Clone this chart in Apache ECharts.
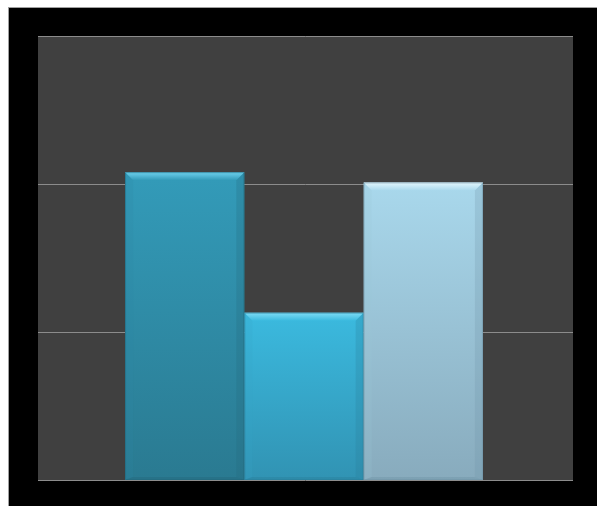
<!DOCTYPE html>
<html><head><meta charset="utf-8">
<script src="https://cdn.jsdelivr.net/npm/echarts@6/dist/echarts.min.js"></script>
<style>
html,body{margin:0;padding:0;background:#fff;width:597px;height:506px;overflow:hidden;}
#bg{position:absolute;left:8px;top:7px;right:0;bottom:0;background:#000;border-top:1px solid #a0a0a0;border-left:1px solid #a0a0a0;}
#chart{position:absolute;left:0;top:0;width:597px;height:506px;}
</style></head>
<body>
<div id="bg"></div>
<div id="chart"></div>
<script>
var categories = [''];
var seriesValues = [2.08, 1.13, 2.01];
var yTicks = [0, 1, 2, 3];
var palette = [
  {top:'#339bb9', bottom:'#2a7a91', bevel:'#6fd2ee', side:'#2d88a3', edge:'#22677b'},
  {top:'#3bbadf', bottom:'#3193b3', bevel:'#7edcf5', side:'#35a6c9', edge:'#277d99'},
  {top:'#a9d8ec', bottom:'#88abbd', bevel:'#e4f7fd', side:'#9cc6d8', edge:'#6f94a6'}
];
var chart = echarts.init(document.getElementById('chart'));
var n = seriesValues.length;
var groupFrac = 0.669;
function makeRender(idx){
  var c = palette[idx];
  return function(params, api){
    var v = api.value(1);
    var base = api.coord([api.value(0), 0]);
    var topP = api.coord([api.value(0), v]);
    var catW = api.size([1, 0])[0];
    var bw = catW * groupFrac / n;
    var x0 = base[0] - 1.5 - n * bw / 2 + idx * bw;
    var x1 = x0 + bw;
    var t = topP[1], b = base[1];
    var e = 8;
    return {type:'group', children:[
      {type:'rect', shape:{x:x0, y:t, width:bw, height:b - t},
        style:{fill:new echarts.graphic.LinearGradient(0,0,0,1,[{offset:0,color:c.top},{offset:1,color:c.bottom}])}},
      {type:'polygon', shape:{points:[[x0,t],[x1,t],[x1-e,t+e],[x0+e,t+e]]},
        style:{fill:new echarts.graphic.LinearGradient(0,0,0,1,[{offset:0,color:c.bevel},{offset:1,color:c.top}])}},
      {type:'polygon', shape:{points:[[x0,t],[x0+e,t+e],[x0+e,b-3],[x0,b]]},
        style:{fill:c.side, opacity:0.2}},
      {type:'polygon', shape:{points:[[x1,t],[x1-e,t+e],[x1-e,b-3],[x1,b]]},
        style:{fill:c.edge, opacity:0.25}},
      {type:'polygon', shape:{points:[[x0,b],[x0+e,b-3],[x1-e,b-3],[x1,b]]},
        style:{fill:c.edge, opacity:0.4}},
      {type:'rect', shape:{x:x0+0.5, y:t+0.5, width:bw-1, height:b-t-1},
        style:{fill:'none', stroke:c.edge, lineWidth:1, opacity:0.5}}
    ]};
  };
}
var series = seriesValues.map(function(val, i){
  return {type:'custom', renderItem:makeRender(i), data:[[0, val]], z:3};
});
chart.setOption({
  animation:false,
  backgroundColor:'transparent',
  grid:{left:38, right:24, top:36, bottom:26, show:true, backgroundColor:'#404040', borderWidth:0},
  xAxis:{type:'category', data:categories, axisLine:{show:false}, axisTick:{show:false}, axisLabel:{show:false}, splitLine:{show:false}},
  yAxis:{type:'value', min:yTicks[0], max:yTicks[yTicks.length-1], interval:1,
    axisLine:{show:false}, axisTick:{show:false}, axisLabel:{show:false},
    splitLine:{show:true, lineStyle:{color:'#8c8c8c', width:1}}},
  series:series
});
</script>
</body></html>
